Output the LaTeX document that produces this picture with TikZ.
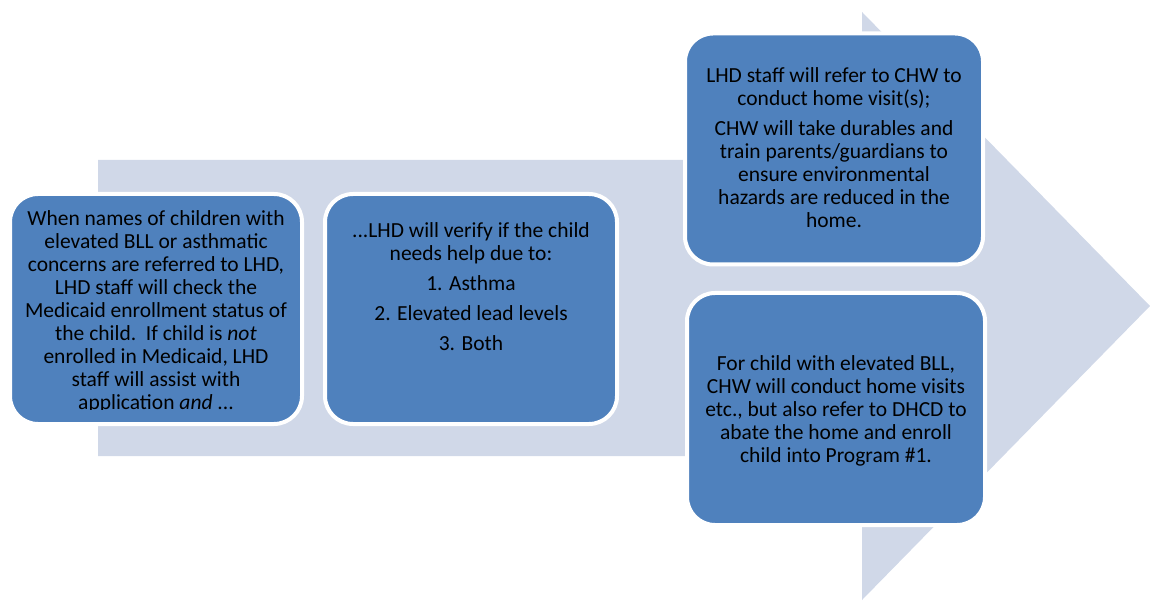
\documentclass[tikz,border=0pt]{standalone}
\usepackage{fontspec}
\setmainfont{Carlito}
\usetikzlibrary{positioning}
\definecolor{boxblue}{HTML}{4F81BD}
\definecolor{arrowgray}{HTML}{D0D8E8}

\begin{document}
\begin{tikzpicture}[x=1pt,y=-1pt,
  every node/.style={font=\fontsize{21.5}{23}\selectfont},
  stagebox/.style={draw=white,line width=4pt,fill=boxblue,rounded corners=28pt,inner sep=0pt},
  stagetext/.style={align=center,inner sep=0pt,anchor=north}]
\useasboundingbox (0,0) rectangle (1150,601);
% big background arrow
\fill[arrowgray] (98,160) -- (862,160) -- (862,12) -- (1150,306) -- (862,600) -- (862,456) -- (98,456) -- cycle;
% the four stages
\node[stagebox,minimum width=292pt,minimum height=230pt] (referral) at (156,309) {};
\node[stagebox,minimum width=292pt,minimum height=230pt] (verify) at (471,309) {};
\node[stagebox,minimum width=298pt,minimum height=231pt] (homevisit) at (834,149) {};
\node[stagebox,minimum width=298pt,minimum height=232pt] (abate) at (836,409) {};
% texts
\begin{scope}
\clip (8,195) rectangle (304,409);
\node[stagetext] (referraltext) at (156,210) {When names of children with\\
elevated BLL or asthmatic\\
concerns are referred to LHD,\\
LHD staff will check the\\
Medicaid enrollment status of\\
the child.\ \ If child is \emph{not}\\
enrolled in Medicaid, LHD\\
staff will assist with\\
application \emph{and} ...};
\end{scope}
\node[stagetext] (verifytext) at (471,222) {...LHD will verify if the child\\
needs help due to:\\[7pt]
1. Asthma\\[7pt]
2. Elevated lead levels\\[7pt]
3. Both};
\node[stagetext] (homevisittext) at (834,67) {LHD staff will refer to CHW to\\
conduct home visit(s);\\[7pt]
CHW will take durables and\\
train parents/guardians to\\
ensure environmental\\
hazards are reduced in the\\
home.};
\node[stagetext] (abatetext) at (836,355) {For child with elevated BLL,\\
CHW will conduct home visits\\
etc., but also refer to DHCD to\\
abate the home and enroll\\
child into Program \#1.};
\end{tikzpicture}
\end{document}
